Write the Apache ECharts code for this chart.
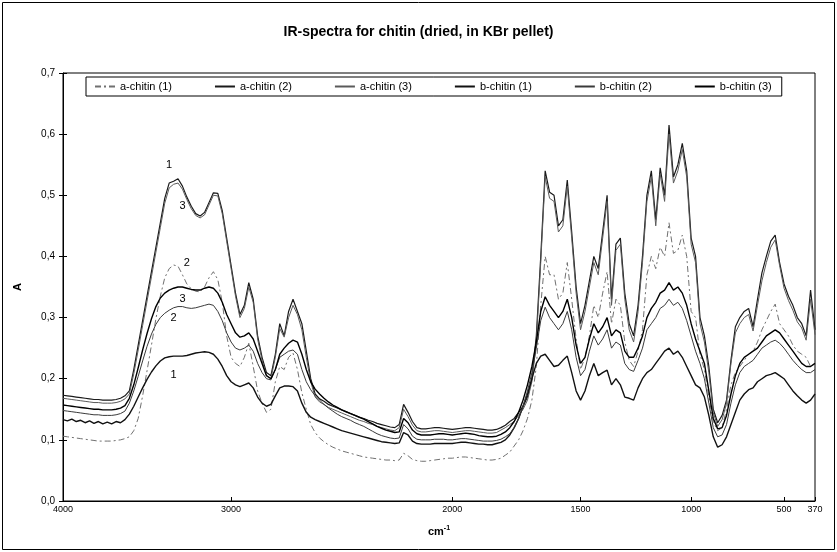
<!DOCTYPE html>
<html>
<head>
<meta charset="utf-8">
<title>IR-spectra for chitin</title>
<script src="https://cdn.jsdelivr.net/npm/echarts@6/dist/echarts.min.js"></script>
<style>
  html, body { margin: 0; padding: 0; background: #fff; }
  #chart { width: 837px; height: 552px; }
</style>
</head>
<body>
<div id="chart"></div>
<script>
// Wavenumber axis (cm-1): labelled positions and the number of recorded
// channels between neighbouring labels (the spectrometer export is not
// evenly spaced, so each segment has its own channel count).
const tickWavenumbers = [4000, 3000, 2000, 1500, 1000, 500, 370];
const channelsPerSegment = [38, 50, 29, 25, 21, 7];

// Absorbance of each pellet, one value per channel (4000 -> 370 cm-1).
const aChitin1 = [
  0.106, 0.105, 0.104, 0.103, 0.102, 0.101, 0.1, 0.099, 0.098, 0.098, 0.098, 0.098, 0.099, 0.1, 0.102,
  0.105, 0.115, 0.135, 0.172, 0.213, 0.255, 0.298, 0.335, 0.365, 0.38, 0.386, 0.384, 0.37, 0.355, 0.347, 0.343, 0.342, 0.35, 0.365, 0.375, 0.362, 0.325, 0.27, 0.235,
  0.225, 0.22, 0.235, 0.258, 0.22, 0.18, 0.16, 0.145, 0.15, 0.195, 0.22, 0.215, 0.235, 0.242, 0.215, 0.177, 0.15, 0.125, 0.112, 0.103,
  0.097, 0.092, 0.088, 0.085, 0.082, 0.08, 0.078, 0.076, 0.074, 0.072, 0.071, 0.07, 0.069, 0.068, 0.067, 0.067, 0.066, 0.067, 0.078, 0.074,
  0.068, 0.066, 0.065, 0.065, 0.066, 0.067, 0.068, 0.069, 0.07, 0.07,
  0.071, 0.072, 0.072, 0.071, 0.07, 0.069, 0.068, 0.067, 0.067, 0.068,
  0.07, 0.075, 0.08, 0.09, 0.1, 0.115, 0.135, 0.165, 0.22, 0.32, 0.4, 0.37, 0.37, 0.33, 0.34, 0.39, 0.33, 0.265,
  0.215, 0.235, 0.27, 0.32, 0.3, 0.34, 0.375, 0.29, 0.33, 0.32, 0.26, 0.23, 0.22, 0.245, 0.28, 0.37, 0.4, 0.38,
  0.415, 0.4, 0.455, 0.405, 0.41, 0.435, 0.4, 0.31, 0.3, 0.24, 0.215, 0.17, 0.13, 0.115, 0.12, 0.15, 0.19, 0.21,
  0.22, 0.23, 0.24, 0.245, 0.26, 0.28, 0.295, 0.31, 0.322, 0.29, 0.28, 0.27, 0.255, 0.245, 0.24, 0.235, 0.22, 0.225
];
const aChitin2 = [
  0.173, 0.172, 0.171, 0.17, 0.169, 0.168, 0.167, 0.166, 0.166, 0.165, 0.165, 0.165, 0.166, 0.168, 0.172,
  0.18, 0.215, 0.255, 0.295, 0.335, 0.375, 0.415, 0.455, 0.495, 0.52, 0.523, 0.527, 0.515, 0.497, 0.482, 0.47, 0.466, 0.472, 0.488, 0.504, 0.503, 0.475, 0.43, 0.385,
  0.34, 0.305, 0.32, 0.357, 0.33, 0.27, 0.235, 0.21, 0.205, 0.24, 0.29, 0.27, 0.31, 0.33, 0.31, 0.29, 0.245, 0.2, 0.175, 0.167,
  0.163, 0.158, 0.155, 0.152, 0.149, 0.146, 0.143, 0.14, 0.137, 0.135, 0.132, 0.13, 0.127, 0.125, 0.123, 0.121, 0.12, 0.125, 0.158, 0.145,
  0.13, 0.12, 0.118, 0.118, 0.119, 0.12, 0.12, 0.119, 0.118, 0.117,
  0.118, 0.119, 0.12, 0.12, 0.119, 0.118, 0.117, 0.116, 0.116, 0.117,
  0.12, 0.124, 0.13, 0.135, 0.145, 0.155, 0.17, 0.2, 0.27, 0.4, 0.54, 0.505, 0.5, 0.45, 0.46, 0.525, 0.44, 0.35,
  0.29, 0.32, 0.36, 0.4, 0.38, 0.44, 0.5, 0.33, 0.42, 0.43, 0.34, 0.29, 0.27, 0.32, 0.4, 0.5, 0.54, 0.46,
  0.545, 0.5, 0.615, 0.53, 0.55, 0.585, 0.54, 0.43, 0.4, 0.3, 0.27, 0.22, 0.15, 0.128, 0.14, 0.165, 0.23, 0.285,
  0.3, 0.31, 0.315, 0.285, 0.33, 0.373, 0.4, 0.425, 0.435, 0.39, 0.355, 0.335, 0.32, 0.3, 0.29, 0.27, 0.345, 0.28
];
const aChitin3 = [
  0.168, 0.167, 0.166, 0.165, 0.164, 0.163, 0.162, 0.161, 0.161, 0.16, 0.16, 0.16, 0.161, 0.163, 0.167,
  0.175, 0.208, 0.247, 0.287, 0.327, 0.367, 0.407, 0.447, 0.487, 0.512, 0.518, 0.52, 0.51, 0.493, 0.478, 0.467, 0.463, 0.468, 0.484, 0.5, 0.499, 0.47, 0.425, 0.38,
  0.335, 0.3, 0.315, 0.35, 0.325, 0.265, 0.23, 0.205, 0.2, 0.235, 0.282, 0.268, 0.3, 0.32, 0.305, 0.28, 0.235, 0.195, 0.17, 0.162,
  0.158, 0.153, 0.15, 0.147, 0.144, 0.141, 0.138, 0.135, 0.132, 0.13, 0.127, 0.125, 0.122, 0.12, 0.118, 0.116, 0.115, 0.12, 0.15, 0.138,
  0.124, 0.115, 0.113, 0.113, 0.114, 0.115, 0.115, 0.114, 0.113, 0.112,
  0.113, 0.114, 0.115, 0.115, 0.114, 0.113, 0.112, 0.111, 0.111, 0.112,
  0.116, 0.12, 0.125, 0.13, 0.14, 0.15, 0.165, 0.195, 0.26, 0.39, 0.53, 0.495, 0.49, 0.44, 0.45, 0.515, 0.43, 0.34,
  0.28, 0.31, 0.35, 0.39, 0.37, 0.43, 0.49, 0.32, 0.41, 0.42, 0.33, 0.28, 0.26, 0.31, 0.39, 0.49, 0.53, 0.45,
  0.535, 0.49, 0.6, 0.52, 0.54, 0.575, 0.53, 0.42, 0.39, 0.29, 0.26, 0.21, 0.145, 0.122, 0.133, 0.16, 0.225, 0.275,
  0.29, 0.3, 0.305, 0.278, 0.32, 0.36, 0.39, 0.415, 0.427, 0.385, 0.348, 0.328, 0.312, 0.293, 0.283, 0.263, 0.33, 0.272
];
const bChitin1 = [
  0.133, 0.131, 0.134, 0.13, 0.132, 0.128, 0.131, 0.127, 0.13, 0.126, 0.129, 0.126, 0.13, 0.128, 0.133,
  0.142, 0.155, 0.17, 0.185, 0.199, 0.211, 0.221, 0.229, 0.234, 0.236, 0.237, 0.237, 0.237, 0.238, 0.24, 0.242, 0.243, 0.244, 0.243, 0.24, 0.232, 0.22, 0.205, 0.195,
  0.19, 0.187, 0.19, 0.193, 0.185, 0.17, 0.16, 0.155, 0.158, 0.172, 0.185, 0.188, 0.188, 0.187, 0.18, 0.16, 0.145, 0.137, 0.133, 0.13,
  0.127, 0.124, 0.121, 0.118, 0.115, 0.113, 0.111, 0.109, 0.107, 0.105, 0.103, 0.101, 0.099, 0.097, 0.096, 0.095, 0.094, 0.095, 0.112, 0.108,
  0.098, 0.094, 0.093, 0.093, 0.093, 0.094, 0.094, 0.094, 0.094, 0.094,
  0.095, 0.096, 0.096, 0.095, 0.094, 0.093, 0.093, 0.092, 0.092, 0.094,
  0.096, 0.1, 0.108, 0.12, 0.135, 0.155, 0.175, 0.2, 0.225, 0.237, 0.24, 0.23, 0.22, 0.222, 0.23, 0.237, 0.21, 0.18,
  0.165, 0.18, 0.205, 0.225, 0.205, 0.21, 0.214, 0.19, 0.2, 0.19, 0.17, 0.168, 0.165, 0.185, 0.2, 0.21, 0.215, 0.225,
  0.235, 0.245, 0.25, 0.24, 0.245, 0.235, 0.22, 0.205, 0.19, 0.185, 0.17, 0.14, 0.105, 0.088, 0.092, 0.105, 0.125, 0.145,
  0.165, 0.175, 0.182, 0.185, 0.195, 0.2, 0.205, 0.207, 0.21, 0.205, 0.2, 0.19, 0.18, 0.172, 0.165, 0.16, 0.165, 0.175
];
const bChitin2 = [
  0.148, 0.147, 0.146, 0.145, 0.144, 0.143, 0.142, 0.141, 0.141, 0.14, 0.14, 0.14, 0.141, 0.143, 0.147,
  0.16, 0.18, 0.204, 0.229, 0.253, 0.273, 0.289, 0.3, 0.307, 0.312, 0.316, 0.318, 0.318, 0.316, 0.315, 0.316, 0.318, 0.32, 0.322, 0.32, 0.31, 0.295, 0.275, 0.26,
  0.25, 0.247, 0.25, 0.255, 0.245, 0.225, 0.21, 0.2, 0.198, 0.215, 0.235, 0.24, 0.245, 0.247, 0.24, 0.215, 0.195, 0.182, 0.172, 0.165,
  0.158, 0.152, 0.147, 0.142, 0.138, 0.135, 0.132, 0.128, 0.125, 0.122, 0.118, 0.114, 0.11, 0.107, 0.105, 0.103, 0.102, 0.103, 0.125, 0.118,
  0.106, 0.101, 0.1, 0.1, 0.1, 0.101, 0.101, 0.101, 0.1, 0.1,
  0.101, 0.102, 0.102, 0.101, 0.1, 0.099, 0.098, 0.098, 0.098, 0.099,
  0.101, 0.105, 0.11, 0.12, 0.135, 0.155, 0.18, 0.21, 0.25, 0.295, 0.317, 0.3, 0.29, 0.28, 0.29, 0.31, 0.28, 0.235,
  0.205, 0.215, 0.245, 0.27, 0.255, 0.265, 0.28, 0.25, 0.26, 0.255, 0.225, 0.215, 0.212, 0.23, 0.25, 0.28, 0.29, 0.3,
  0.315, 0.32, 0.33, 0.32, 0.325, 0.315, 0.295, 0.27, 0.245, 0.225, 0.2, 0.16, 0.12, 0.105, 0.108, 0.125, 0.16, 0.19,
  0.21, 0.22, 0.225, 0.23, 0.24, 0.25, 0.255, 0.26, 0.263, 0.258, 0.25, 0.24, 0.23, 0.222, 0.215, 0.21, 0.21, 0.215
];
const bChitin3 = [
  0.157, 0.156, 0.155, 0.154, 0.153, 0.152, 0.151, 0.15, 0.15, 0.149, 0.149, 0.149, 0.15, 0.152, 0.156,
  0.168, 0.19, 0.218, 0.247, 0.274, 0.298, 0.318, 0.332, 0.34, 0.345, 0.348, 0.35, 0.35, 0.348, 0.346, 0.345, 0.345, 0.348, 0.35, 0.348, 0.34, 0.325, 0.305, 0.29,
  0.275, 0.268, 0.27, 0.275, 0.265, 0.245, 0.225, 0.205, 0.2, 0.215, 0.24, 0.25, 0.258, 0.263, 0.26, 0.24, 0.215, 0.195, 0.183, 0.175,
  0.168, 0.162, 0.157, 0.153, 0.149, 0.146, 0.143, 0.14, 0.137, 0.134, 0.13, 0.126, 0.122, 0.119, 0.116, 0.114, 0.112, 0.113, 0.135, 0.128,
  0.116, 0.11, 0.108, 0.108, 0.108, 0.109, 0.11, 0.11, 0.109, 0.108,
  0.109, 0.11, 0.111, 0.11, 0.109, 0.107, 0.106, 0.105, 0.105, 0.106,
  0.109, 0.113, 0.12, 0.13, 0.145, 0.165, 0.19, 0.22, 0.26, 0.31, 0.334, 0.32, 0.31, 0.3, 0.31, 0.33, 0.3, 0.255,
  0.225, 0.235, 0.265, 0.29, 0.275, 0.285, 0.3, 0.27, 0.28, 0.275, 0.245, 0.235, 0.235, 0.25, 0.27, 0.3, 0.315, 0.325,
  0.34, 0.345, 0.357, 0.345, 0.35, 0.34, 0.32, 0.29, 0.265, 0.245, 0.225, 0.18, 0.135, 0.118, 0.12, 0.14, 0.175, 0.205,
  0.225, 0.235, 0.24, 0.245, 0.25, 0.26, 0.27, 0.275, 0.28, 0.275, 0.265, 0.255, 0.245, 0.235, 0.225, 0.22, 0.22, 0.225
];

const seriesNames = ['a-chitin (1)', 'a-chitin (2)', 'a-chitin (3)', 'b-chitin (1)', 'b-chitin (2)', 'b-chitin (3)'];
const seriesValues = [aChitin1, aChitin2, aChitin3, bChitin1, bChitin2, bChitin3];

// Sample numbers written next to the curves: text, channel, absorbance.
const curveTags = [
  ['1', 24, 0.55], ['3', 27, 0.482], ['2', 28, 0.39],
  ['3', 27, 0.33], ['2', 25, 0.30], ['1', 25, 0.206]
];

// Channel wavenumbers, rounded to whole cm-1.
const wavenumbers = [];
tickWavenumbers.slice(0, -1).forEach((w, k) => {
  const next = tickWavenumbers[k + 1];
  const n = channelsPerSegment[k];
  for (let j = 0; j < n; j++) wavenumbers.push(Math.round(w - (w - next) * j / n));
});
wavenumbers.push(tickWavenumbers[tickWavenumbers.length - 1]);
const categories = wavenumbers.map(String);

// Line look of each pellet (monochrome print style).
const lineLooks = [
  { color: '#707070', width: 1, type: [6, 3, 2, 3] },
  { color: '#1a1a1a', width: 1.2, type: 'solid' },
  { color: '#5a5a5a', width: 1, type: 'solid' },
  { color: '#111111', width: 1.4, type: 'solid' },
  { color: '#3a3a3a', width: 1, type: 'solid' },
  { color: '#000000', width: 1.4, type: 'solid' }
];

const FONT = '"Liberation Sans", Arial, Helvetica, sans-serif';
const isTick = (idx, value) => tickWavenumbers.includes(Number(value));

const series = seriesNames.map((name, s) => ({
  name,
  type: 'line',
  data: seriesValues[s],
  symbol: 'none',
  showSymbol: false,
  smooth: false,
  lineStyle: { color: lineLooks[s].color, width: lineLooks[s].width, type: lineLooks[s].type },
  itemStyle: { color: lineLooks[s].color },
  emphasis: { disabled: true },
  z: 2 + s
}));

series[0].markPoint = {
  symbol: 'circle',
  symbolSize: 0,
  silent: true,
  label: {
    show: true, position: 'inside', formatter: '{b}',
    color: '#000', fontSize: 11, fontFamily: FONT
  },
  data: curveTags.map(([text, at, a]) => ({ name: text, coord: [categories[at], a] }))
};

const chart = echarts.init(document.getElementById('chart'), null, { renderer: 'canvas' });
chart.setOption({
  animation: false,
  backgroundColor: '#ffffff',
  title: {
    text: 'IR-spectra for chitin (dried, in KBr pellet)',
    left: 'center',
    top: 20,
    textStyle: { fontFamily: FONT, fontSize: 14, fontWeight: 'bold', color: '#000' }
  },
  legend: {
    data: seriesNames,
    left: 86,
    top: 77,
    orient: 'horizontal',
    itemWidth: 20,
    itemHeight: 10,
    itemGap: 42,
    padding: [4, 10, 4, 8],
    borderColor: '#000',
    borderWidth: 1,
    backgroundColor: '#fff',
    selectedMode: false,
    itemStyle: { opacity: 0, color: 'transparent', borderColor: 'transparent', borderWidth: 0 },
    textStyle: { fontFamily: FONT, fontSize: 11, color: '#000' }
  },
  grid: {
    left: 63, right: 22, top: 73, bottom: 51,
    show: true, borderColor: '#000', borderWidth: 1, backgroundColor: 'transparent'
  },
  xAxis: {
    type: 'category',
    data: categories,
    boundaryGap: false,
    name: 'cm{sup|-1}',
    nameLocation: 'middle',
    nameGap: 24,
    nameTextStyle: {
      fontFamily: FONT, fontSize: 11, fontWeight: 'bold', color: '#000',
      rich: { sup: { fontSize: 7, fontWeight: 'bold', verticalAlign: 'top', padding: [0, 0, 6, 0] } }
    },
    axisLine: { lineStyle: { color: '#000', width: 1 } },
    axisTick: { show: true, inside: true, length: 4, interval: isTick, lineStyle: { color: '#000' } },
    axisLabel: { interval: isTick, fontFamily: FONT, fontSize: 9, color: '#000', margin: 4 },
    splitLine: { show: false }
  },
  yAxis: [{
    type: 'value',
    min: 0, max: 0.7, interval: 0.1,
    name: 'A',
    nameLocation: 'middle',
    nameGap: 40,
    nameRotate: 90,
    nameTextStyle: { fontFamily: FONT, fontSize: 11, fontWeight: 'bold', color: '#000' },
    axisLine: { show: true, lineStyle: { color: '#000', width: 1 } },
    axisTick: { show: true, inside: true, length: 4, lineStyle: { color: '#000' } },
    axisLabel: {
      fontFamily: FONT, fontSize: 10, color: '#000', margin: 8,
      formatter: v => v.toFixed(1).replace('.', ',')
    },
    splitLine: { show: false }
  }, {
    type: 'value',
    position: 'left',
    min: 0, max: 0.7, interval: 0.1,
    axisLine: { show: false },
    axisTick: { show: true, inside: false, length: 4, lineStyle: { color: '#000' } },
    axisLabel: { show: false },
    splitLine: { show: false }
  }],
  graphic: [{
    type: 'rect',
    silent: true,
    shape: { x: 2.5, y: 2.5, width: 832, height: 547 },
    style: { fill: 'none', stroke: '#000', lineWidth: 1 }
  }],
  series
});
</script>
</body>
</html>
